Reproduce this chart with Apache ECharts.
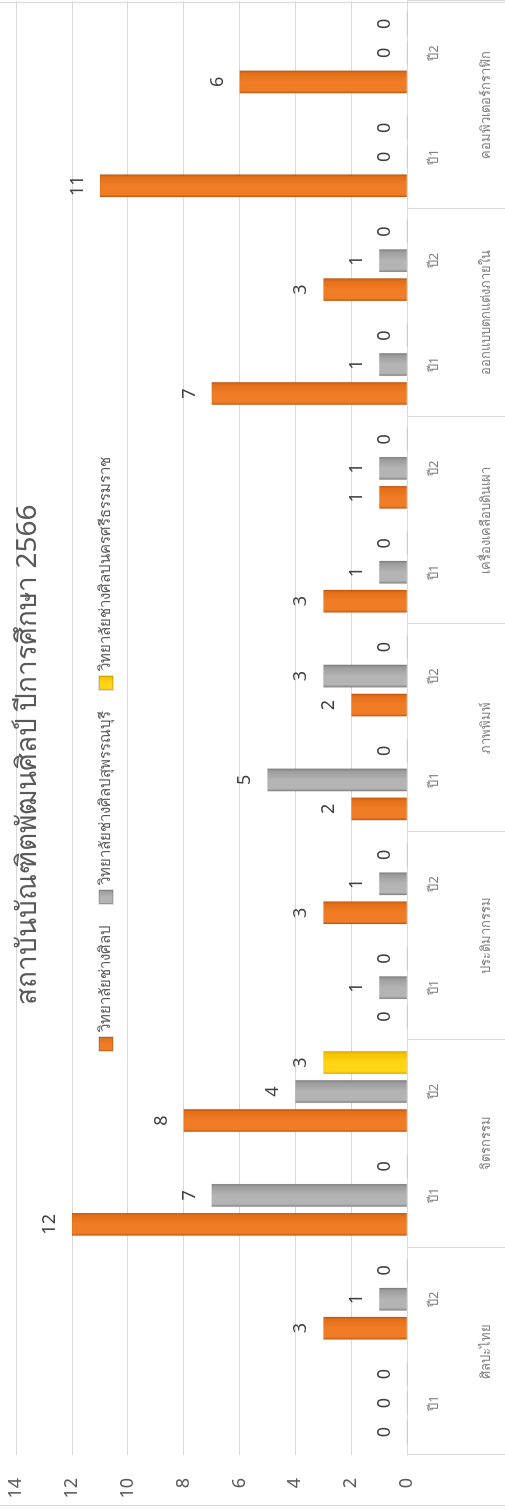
<!DOCTYPE html>
<html>
<head>
<meta charset="utf-8">
<script src="https://cdn.jsdelivr.net/npm/echarts@6/dist/echarts.min.js"></script>
<style>
html,body{margin:0;padding:0;width:505px;height:1509px;overflow:hidden;background:#fff;}
#chart{position:absolute;left:0;top:0;width:1509px;height:505px;transform-origin:0 0;transform:translate(0,1509px) rotate(-90deg);}
</style>
</head>
<body>
<div id="chart"></div>
<script>
const titleText = 'สถาบันบัณฑิตพัฒนศิลป์ ปีการศึกษา 2566';
const groups = ['ศิลปะไทย','จิตรกรรม','ประติมากรรม','ภาพพิมพ์','เครื่องเคลือบดินเผา','ออกแบบตกแต่งภายใน','คอมพิวเตอร์กราฟิก'];
const years = ['ปี1','ปี2','ปี1','ปี2','ปี1','ปี2','ปี1','ปี2','ปี1','ปี2','ปี1','ปี2','ปี1','ปี2'];
const seriesNames = ['วิทยาลัยช่างศิลป','วิทยาลัยช่างศิลปสุพรรณบุรี','วิทยาลัยช่างศิลปนครศรีธรรมราช'];
const orangeValues = [0,3,12,8,0,3,2,2,3,1,7,3,11,6];
const grayValues   = [0,1,7,4,1,1,5,3,1,1,1,1,0,0];
const yellowValues = [0,0,0,3,0,0,0,0,0,0,0,0,0,0];
const valueTicks = {min:0, max:14, interval:2};

const FONT = '"Noto Sans", "DejaVu Sans", sans-serif';
function grad(c0,c1,c2){
  return new echarts.graphic.LinearGradient(0,0,1,0,[
    {offset:0,color:c0},{offset:0.12,color:c1},{offset:0.5,color:c1},{offset:0.88,color:c2},{offset:1,color:c0}
  ]);
}
const colors = [
  grad('#c0540e','#f07d25','#e36f18'),
  grad('#7a7a7a','#b4b4b4','#9c9c9c'),
  grad('#d9a800','#ffd616','#f2c200')
];
const legendColors = [
  grad('#c0540e','#f07d25','#e36f18'),
  grad('#7a7a7a','#b4b4b4','#9c9c9c'),
  grad('#d9a800','#ffd616','#f2c200')
];

const chart = echarts.init(document.getElementById('chart'), null, {width:1509, height:505});
const labelCfg = {show:true, position:'top', distance:13, fontSize:18, color:'#404040', fontFamily:FONT};
function mkSeries(i, data){
  return {
    name: seriesNames[i], type:'bar', data:data, xAxisIndex:0,
    barWidth:23, barGap:'26%',
    itemStyle:{color:colors[i], borderColor:'rgba(0,0,0,0.12)', borderWidth:0.5},
    label:labelCfg
  };
}
chart.setOption({
  animation:false,
  textStyle:{fontFamily:FONT},
  title:{text:titleText, left:499, top:9,
    textStyle:{fontSize:28, fontWeight:'normal', color:'#595959', fontFamily:FONT}},
  legend:{
    top:93, left:452, itemWidth:14, itemHeight:14, itemGap:20,
    icon:'rect',
    textStyle:{fontSize:15, color:'#595959', fontFamily:FONT},
    data: seriesNames.map((n,i)=>({name:n, itemStyle:{color:legendColors[i]}}))
  },
  grid:{left:54, right:1, top:16, bottom:98, containLabel:false},
  xAxis:[
    {type:'category', data:years, position:'bottom',
      axisLine:{show:true, lineStyle:{color:'#d9d9d9', width:1}},
      axisTick:{show:false},
      axisLabel:{margin:21, fontSize:13, color:'#7f7f7f', interval:0, fontFamily:FONT}},
    {type:'category', data:groups, position:'bottom',
      axisLine:{show:false},
      axisTick:{show:true, interval:0, length:98, lineStyle:{color:'#d9d9d9', width:1}},
      axisLabel:{margin:73, fontSize:13, color:'#7f7f7f', interval:0, fontFamily:FONT}}
  ],
  yAxis:{type:'value', min:valueTicks.min, max:valueTicks.max, interval:valueTicks.interval,
    axisLine:{show:false}, axisTick:{show:false},
    splitLine:{lineStyle:{color:'#d9d9d9', width:1}},
    axisLabel:{fontSize:18, color:'#595959', margin:23, fontFamily:FONT}},
  series:[mkSeries(0, orangeValues), mkSeries(1, grayValues), mkSeries(2, yellowValues)],
  graphic:[{type:'rect', shape:{x:3.5, y:-5, width:1503, height:515},
    style:{fill:'none', stroke:'#d9d9d9', lineWidth:1}, silent:true}]
});
</script>
</body>
</html>
